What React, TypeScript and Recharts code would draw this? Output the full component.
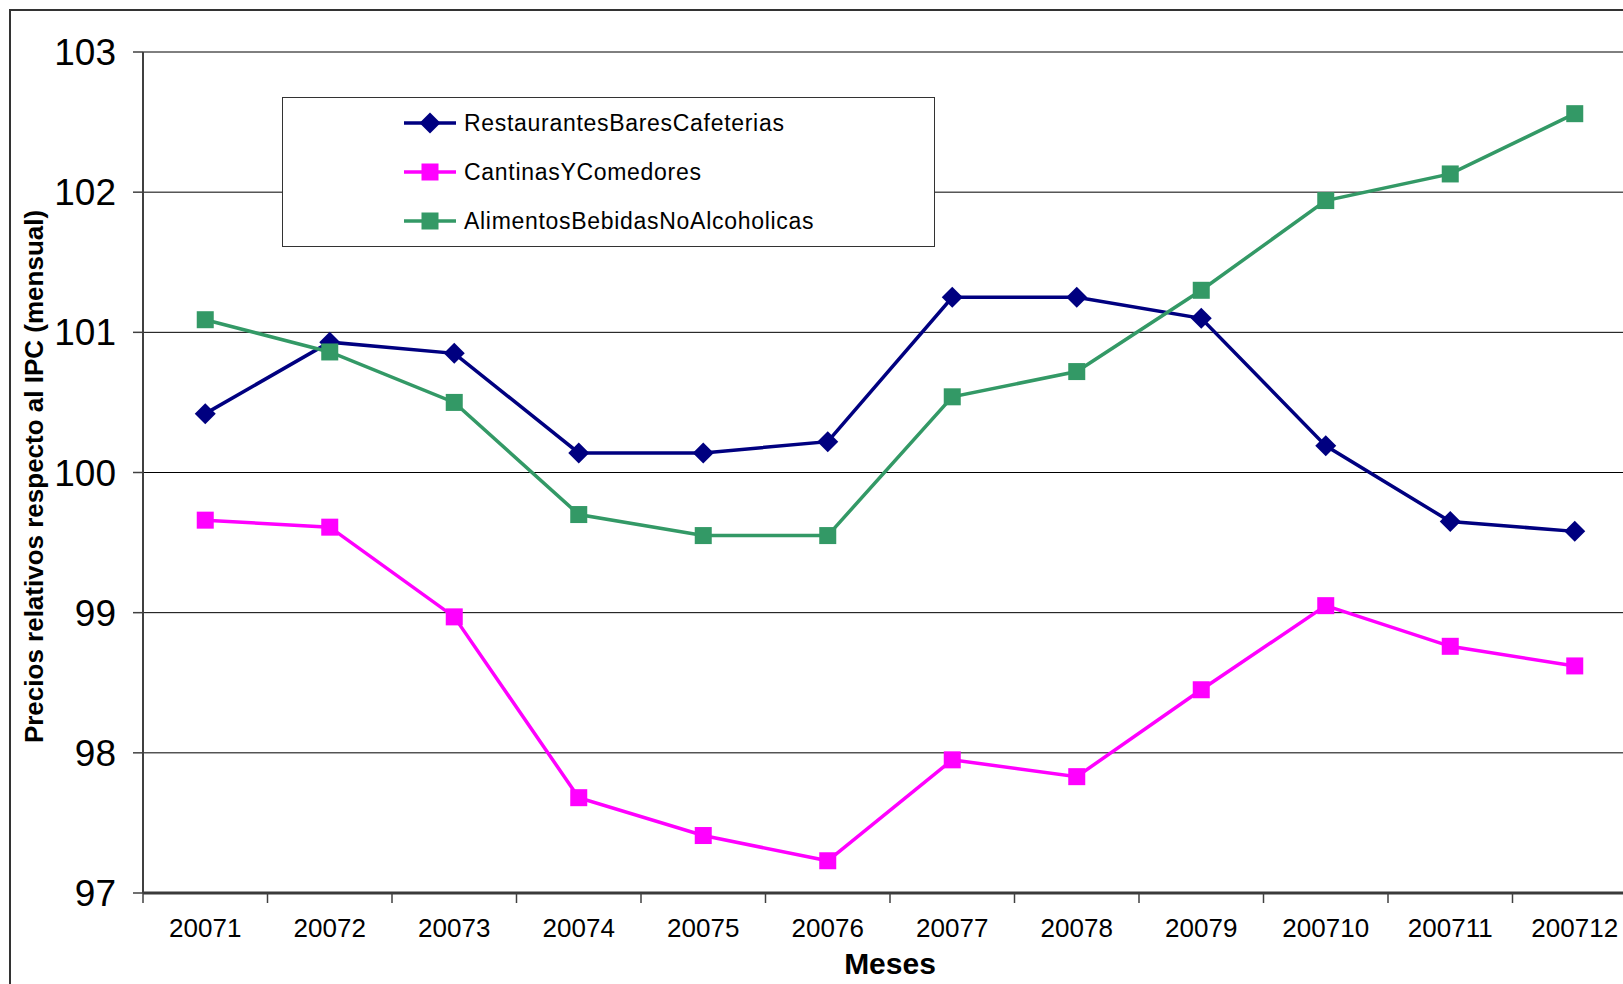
import { CartesianGrid, Label, Legend, Line, LineChart, XAxis, YAxis } from 'recharts';

// Precios relativos respecto al IPC, mensual 2007
const months = ['20071', '20072', '20073', '20074', '20075', '20076', '20077', '20078', '20079', '200710', '200711', '200712'];
const restaurantes = [100.42, 100.93, 100.85, 100.14, 100.14, 100.22, 101.25, 101.25, 101.1, 100.19, 99.65, 99.58];
const cantinas = [99.66, 99.61, 98.97, 97.68, 97.41, 97.23, 97.95, 97.83, 98.45, 99.05, 98.76, 98.62];
const alimentos = [101.09, 100.86, 100.5, 99.7, 99.55, 99.55, 100.54, 100.72, 101.3, 101.94, 102.13, 102.56];
const yTicks = [97, 98, 99, 100, 101, 102, 103];

const FONT = '"Liberation Sans", Arial, sans-serif';

const SERIES = [
  { key: 'restaurantes', name: 'RestaurantesBaresCafeterias', color: '#000080', shape: 'diamond' },
  { key: 'cantinas', name: 'CantinasYComedores', color: '#FF00FF', shape: 'square' },
  { key: 'alimentos', name: 'AlimentosBebidasNoAlcoholicas', color: '#339966', shape: 'square' },
] as const;

const rows = months.map((m, i) => ({
  month: m,
  restaurantes: restaurantes[i],
  cantinas: cantinas[i],
  alimentos: alimentos[i],
}));

function Marker({ cx, cy, color, shape }: { cx?: number; cy?: number; color: string; shape: string }) {
  if (cx == null || cy == null) return null;
  if (shape === 'diamond') {
    const r = 10.5;
    return <polygon points={`${cx},${cy - r} ${cx + r},${cy} ${cx},${cy + r} ${cx - r},${cy}`} fill={color} />;
  }
  const s = 17;
  return <rect x={cx - s / 2} y={cy - s / 2} width={s} height={s} fill={color} />;
}

function MonthTick(props: any) {
  const { x, y, payload } = props;
  const half = payload?.offset ?? 0;
  return (
    <g>
      <line x1={x - half} y1={y - 10} x2={x - half} y2={y} stroke="#404040" strokeWidth={1.5} />
      <text
        x={x}
        y={y + 25}
        textAnchor="middle"
        dominantBaseline="central"
        fontSize={26}
        fontFamily={FONT}
        fill="#000"
      >
        {payload.value}
      </text>
    </g>
  );
}

function LegendBox() {
  return (
    <div
      style={{
        width: 653,
        height: 150,
        border: '1.5px solid #333',
        background: '#fff',
        boxSizing: 'border-box',
        position: 'relative',
      }}
    >
      {SERIES.map((s, i) => (
        <div
          key={s.key}
          style={{
            position: 'absolute',
            left: 121,
            top: 25 + i * 49 - 15,
            height: 30,
            display: 'flex',
            alignItems: 'center',
          }}
        >
          <svg width={52} height={30}>
            <line x1={0} y1={15} x2={52} y2={15} stroke={s.color} strokeWidth={3.5} />
            <Marker cx={26} cy={15} color={s.color} shape={s.shape} />
          </svg>
          <span
            style={{
              marginLeft: 8,
              fontSize: 23,
              fontFamily: FONT,
              color: '#000',
              letterSpacing: 0.7,
              whiteSpace: 'nowrap',
            }}
          >
            {s.name}
          </span>
        </div>
      ))}
    </div>
  );
}

export default function App() {
  return (
    <div
      style={{
        position: 'fixed',
        left: 0,
        top: 0,
        width: 1623,
        height: 984,
        overflow: 'hidden',
        background: '#fff',
      }}
    >
      <div
        style={{
          position: 'absolute',
          left: 9,
          top: 9,
          width: 1700,
          height: 1100,
          border: '2px solid #333',
        }}
      />
      <div style={{ position: 'absolute', left: 0, top: 0 }}>
        <LineChart
          width={1650}
          height={1010}
          data={rows}
          margin={{ top: 52, right: 13, bottom: 0, left: 0 }}
        >
          <CartesianGrid vertical={false} stroke="#000" strokeWidth={1} />
          <XAxis
            dataKey="month"
            scale="band"
            height={117}
            interval={0}
            tickSize={10}
            tickMargin={0}
            tickLine={false}
            tick={<MonthTick />}
            axisLine={{ stroke: '#3a3a3a', strokeWidth: 3 }}
          >
            <Label
              content={({ viewBox }: any) => (
                <text
                  x={viewBox.x + viewBox.width / 2}
                  y={viewBox.y + 70}
                  textAnchor="middle"
                  dominantBaseline="central"
                  fontSize={30}
                  fontWeight="bold"
                  fontFamily={FONT}
                  fill="#000"
                >
                  Meses
                </text>
              )}
            />
          </XAxis>
          <YAxis
            width={143}
            domain={[97, 103]}
            ticks={yTicks}
            interval={0}
            tickSize={10}
            tickMargin={17}
            tick={{ fontSize: 37, fill: '#000', fontFamily: FONT }}
            tickLine={{ stroke: '#404040', strokeWidth: 1.5 }}
            axisLine={{ stroke: '#404040', strokeWidth: 2 }}
          >
            <Label
              content={({ viewBox }: any) => {
                const cx = viewBox.x + 34;
                const cy = viewBox.y + viewBox.height / 2 + 4;
                return (
                  <text
                    x={cx}
                    y={cy}
                    transform={`rotate(-90 ${cx} ${cy})`}
                    textAnchor="middle"
                    dominantBaseline="central"
                    fontSize={26}
                    fontWeight="bold"
                    fontFamily={FONT}
                    fill="#000"
                  >
                    Precios relativos respecto al IPC (mensual)
                  </text>
                );
              }}
            />
          </YAxis>
          <Legend
            layout="horizontal"
            verticalAlign="middle"
            align="center"
            content={() => <LegendBox />}
            wrapperStyle={{ position: 'absolute', left: 282, top: 97, width: 653, height: 150 }}
          />
          {SERIES.map((s) => (
            <Line
              key={s.key}
              dataKey={s.key}
              name={s.name}
              type="linear"
              stroke={s.color}
              strokeWidth={3.5}
              isAnimationActive={false}
              dot={(p: any) => (
                <Marker key={`${s.key}-${p.index}`} cx={p.cx} cy={p.cy} color={s.color} shape={s.shape} />
              )}
              activeDot={false}
            />
          ))}
        </LineChart>
      </div>
    </div>
  );
}
